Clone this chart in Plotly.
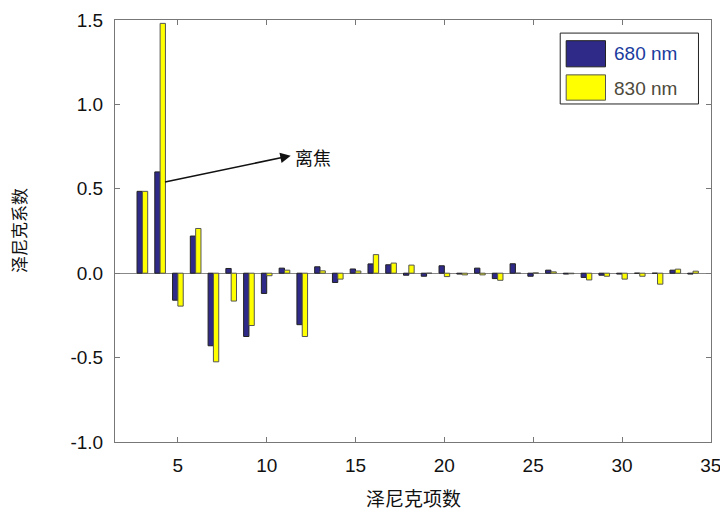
import plotly.graph_objects as go

terms = list(range(3, 35))
coef_680 = [0.485, 0.60, -0.16, 0.22, -0.43, 0.028, -0.375, -0.12, 0.03, -0.305,
            0.038, -0.055, 0.025, 0.055, 0.05, -0.012, -0.018, 0.044, -0.005, 0.03,
            -0.032, 0.056, -0.018, 0.018, -0.005, -0.025, -0.012, -0.005, 0.0, 0.0,
            0.018, -0.005]
coef_830 = [0.485, 1.48, -0.195, 0.265, -0.525, -0.165, -0.31, -0.015, 0.018, -0.375,
            0.014, -0.035, 0.013, 0.11, 0.06, 0.048, 0.0, -0.02, -0.01, -0.01,
            -0.042, 0.0, 0.002, 0.008, -0.003, -0.04, -0.018, -0.035, -0.018, -0.065,
            0.024, 0.012]
series_names = ["680 nm", "830 nm"]
y_ticks = [-1.0, -0.5, 0.0, 0.5, 1.0, 1.5]
y_tick_text = ["-1.0", "-0.5", "0.0", "0.5", "1.0", "1.5"]
x_ticks = [5, 10, 15, 20, 25, 30, 35]

BLUE = "#2f2a88"
YELLOW = "#ffff00"
CJK = "Noto Sans CJK SC"
LAT = "Liberation Sans, Arial, sans-serif"

fig = go.Figure()
fig.add_trace(go.Bar(x=terms, y=coef_680, name=series_names[0],
                     marker=dict(color=BLUE, line=dict(color="#222222", width=1))))
fig.add_trace(go.Bar(x=terms, y=coef_830, name=series_names[1],
                     marker=dict(color=YELLOW, line=dict(color="#555555", width=1))))

axis_common = dict(showline=True, linecolor="#777777", linewidth=1, mirror="ticks",
                   ticks="inside", ticklen=5, tickcolor="#777777", showgrid=False,
                   automargin=False,
                   tickfont=dict(family=LAT, size=19, color="#111111"))

fig.update_xaxes(range=[1.46, 35.01], tickvals=x_ticks, zeroline=False,
                 ticklabelstandoff=6, ticklabeloverflow="allow", **axis_common)
fig.update_yaxes(range=[-1.0, 1.5], tickvals=y_ticks, ticktext=y_tick_text,
                 zeroline=True, zerolinecolor="#888888", zerolinewidth=1,
                 ticklabelstandoff=7, **axis_common)

fig.update_layout(
    width=720, height=512,
    margin=dict(l=115, r=9, t=20, b=70),
    plot_bgcolor="white", paper_bgcolor="white",
    barmode="group", bargap=0.4, bargroupgap=0.0,
    showlegend=False,
)

# axis titles
fig.add_annotation(text="泽尼克项数", xref="paper", yref="paper", x=0.5, y=0,
                   yshift=-55, showarrow=False, yanchor="middle",
                   font=dict(family=CJK, size=19, color="#111111"))
fig.add_annotation(text="泽尼克系数", xref="paper", yref="paper", x=0, y=0.5,
                   xshift=-97, showarrow=False, textangle=-90, xanchor="center",
                   font=dict(family=CJK, size=17, color="#111111"))

# arrow to defocus term
fig.add_annotation(x=11.35, y=0.696, ax=4.19, ay=0.538, xref="x", yref="y",
                   axref="x", ayref="y", text="", showarrow=True, arrowhead=2,
                   arrowsize=1.3, arrowwidth=1.6, arrowcolor="#111111")
fig.add_annotation(x=11.5, y=0.69, xref="x", yref="y", text="离焦", showarrow=False,
                   xanchor="left", yanchor="middle",
                   font=dict(family=CJK, size=18, color="#111111"))

# custom legend
fig.add_shape(type="rect", xref="paper", yref="paper", x0=0.747, x1=0.979,
              y0=0.801, y1=0.969, line=dict(color="#222222", width=1),
              fillcolor="white", layer="above")
fig.add_shape(type="rect", xref="paper", yref="paper", x0=0.757, x1=0.823,
              y0=0.889, y1=0.951, line=dict(color="#222222", width=1),
              fillcolor=BLUE, layer="above")
fig.add_shape(type="rect", xref="paper", yref="paper", x0=0.757, x1=0.823,
              y0=0.810, y1=0.870, line=dict(color="#555555", width=1),
              fillcolor=YELLOW, layer="above")
fig.add_annotation(text=series_names[0], xref="paper", yref="paper", x=0.834, y=0.921,
                   xanchor="left", yanchor="middle", showarrow=False,
                   font=dict(family=LAT, size=19, color="#1a3c9e"))
fig.add_annotation(text=series_names[1], xref="paper", yref="paper", x=0.834, y=0.838,
                   xanchor="left", yanchor="middle", showarrow=False,
                   font=dict(family=LAT, size=19, color="#4d4a3c"))

fig.write_html("out.html", config={"displayModeBar": False},
               post_script="document.body.style.margin='0';")
